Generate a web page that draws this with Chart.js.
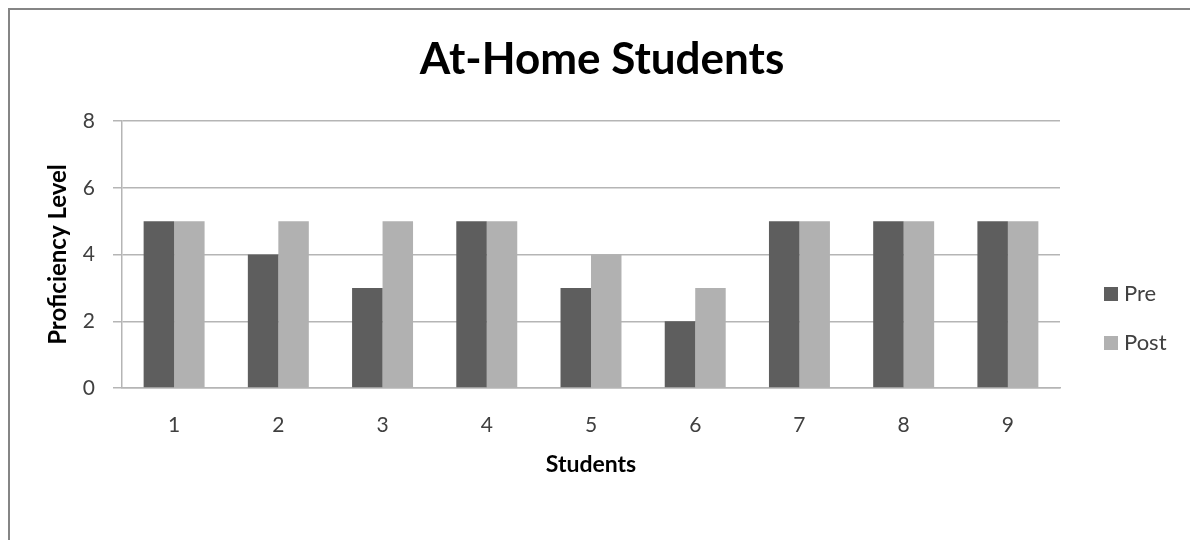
<!DOCTYPE html>
<html>
<head>
<meta charset="utf-8">
<script src="https://cdn.jsdelivr.net/npm/chart.js@4/dist/chart.umd.min.js"></script>
<style>
  html, body { margin: 0; padding: 0; background: #fff; }
  #wrap { position: relative; width: 1190px; height: 540px; overflow: hidden; }
  #frame { position: absolute; left: 8px; top: 8px; right: -10px; bottom: -10px;
           border-top: 2px solid #858585; border-left: 2px solid #858585; pointer-events: none; }
  canvas { position: absolute; left: 0; top: 0; }
</style>
</head>
<body>
<div id="wrap">
  <canvas id="chart" width="1190" height="540"></canvas>
  <div id="frame"></div>
</div>
<script>
const students = ['1', '2', '3', '4', '5', '6', '7', '8', '9'];
const preScores = [5, 4, 3, 5, 3, 2, 5, 5, 5];
const postScores = [5, 5, 5, 5, 4, 3, 5, 5, 5];
const yTicks = [0, 2, 4, 6, 8];

const COLORS = {
  pre: '#5e5e5e',
  post: '#b1b1b1',
  grid: '#b5b5b5',
  text: '#404040'
};
const FONT = 'Lato, "Open Sans", sans-serif';

// title and legend drawn by hand so they sit where the original puts them
const decorPlugin = {
  id: 'decor',
  afterDraw(chart) {
    const ctx = chart.ctx;
    ctx.save();
    ctx.fillStyle = '#000';
    ctx.font = 'bold 44px ' + FONT;
    ctx.textAlign = 'center';
    ctx.textBaseline = 'middle';
    ctx.fillText('At-Home Students', 602, 60);

    ctx.font = '22px ' + FONT;
    ctx.textAlign = 'left';
    chart.data.datasets.forEach((ds, i) => {
      const y = 294 + i * 49;
      ctx.fillStyle = ds.backgroundColor;
      ctx.fillRect(1104, y - 7, 14, 14);
      ctx.fillStyle = COLORS.text;
      ctx.fillText(ds.label, 1124, y);
    });
    ctx.restore();
  }
};

new Chart(document.getElementById('chart'), {
  type: 'bar',
  data: {
    labels: students,
    datasets: [
      { label: 'Pre', data: preScores, backgroundColor: COLORS.pre },
      { label: 'Post', data: postScores, backgroundColor: COLORS.post }
    ]
  },
  options: {
    responsive: false,
    animation: false,
    devicePixelRatio: 1,
    layout: { padding: { top: 121, right: 130, bottom: 0, left: 0 } },
    datasets: { bar: { categoryPercentage: 0.585, barPercentage: 1 } },
    scales: {
      x: {
        grid: { display: false, drawTicks: false },
        border: { display: true, color: COLORS.grid, width: 1.5 },
        ticks: { color: COLORS.text, padding: 25, font: { family: FONT, size: 21 } },
        title: { display: true, text: 'Students', color: '#000',
                 font: { family: FONT, size: 23, weight: 'bold' }, padding: { top: 0, bottom: 62 } },
        afterFit(scale) { scale.height = 152; }
      },
      y: {
        min: 0,
        max: 8,
        afterBuildTicks(scale) { scale.ticks = yTicks.map((v) => ({ value: v })); },
        grid: { color: COLORS.grid, lineWidth: 1.5, tickLength: 9, drawTicks: true },
        border: { display: true, color: COLORS.grid, width: 1.5 },
        ticks: { color: COLORS.text, padding: 18, font: { family: FONT, size: 21 } },
        title: { display: true, text: 'Proficiency Level', color: '#000',
                 font: { family: FONT, size: 24, weight: 'bold' }, padding: { top: 44, bottom: 0 } },
        afterFit(scale) { scale.width = 122; }
      }
    },
    plugins: {
      legend: { display: false },
      title: { display: false },
      tooltip: { enabled: false }
    }
  },
  plugins: [decorPlugin]
});
</script>
</body>
</html>
